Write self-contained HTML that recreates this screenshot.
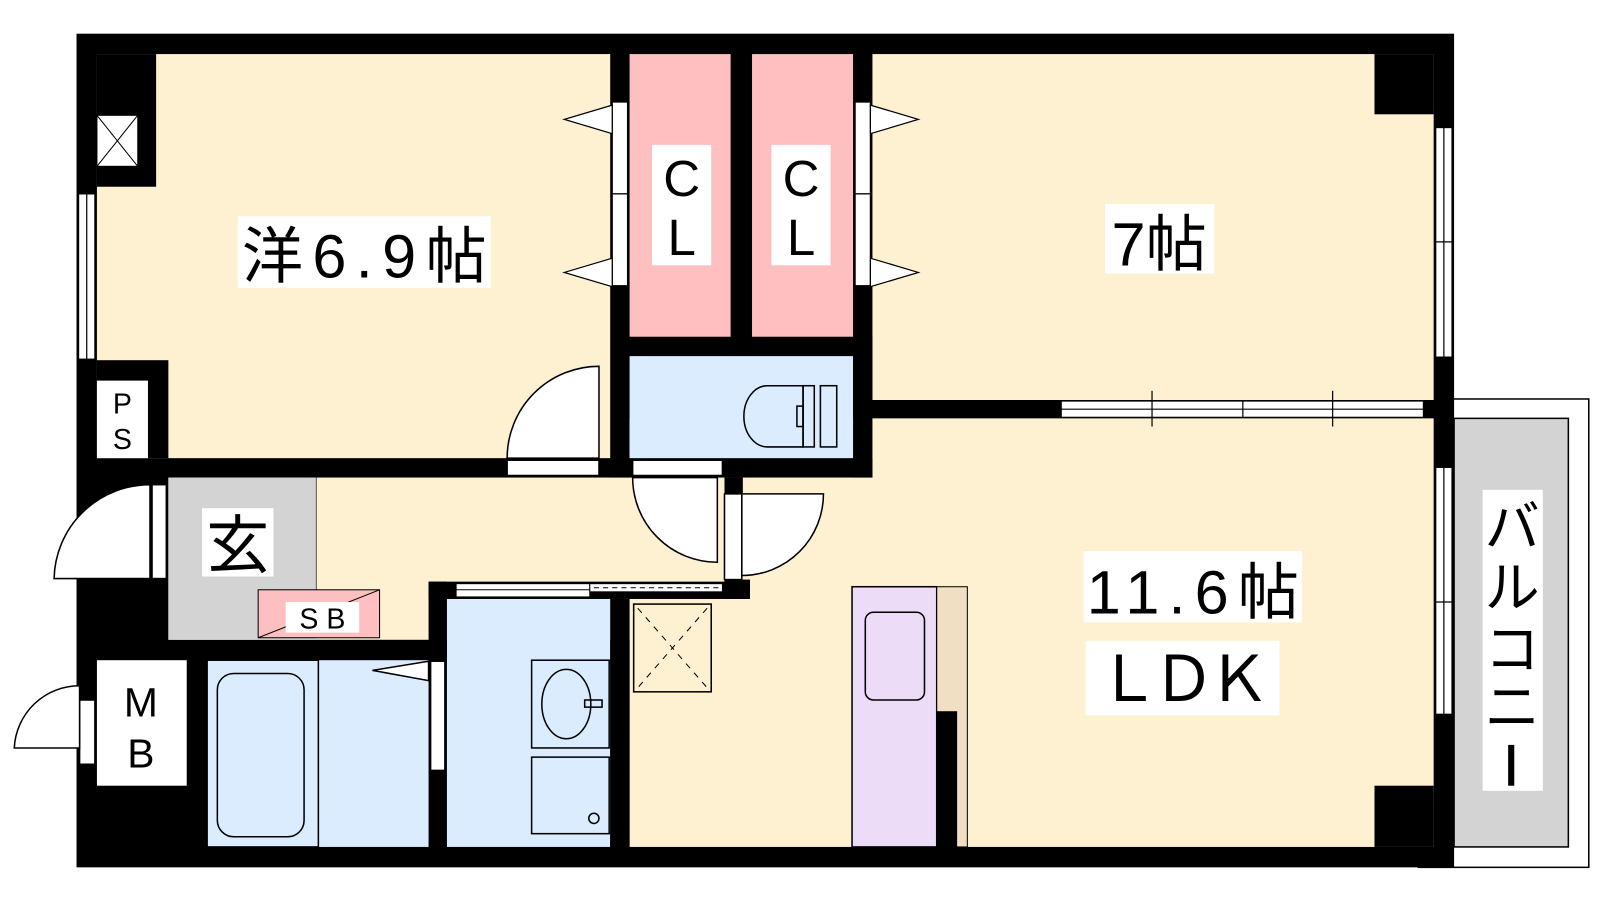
<!DOCTYPE html>
<html><head><meta charset="utf-8"><style>
html,body{margin:0;padding:0;background:#fff;width:1600px;height:900px;overflow:hidden}
svg{display:block}
text{font-family:"Liberation Sans","Noto Sans CJK JP",sans-serif;fill:#000}
</style></head><body>
<svg width="1600" height="900" viewBox="0 0 1600 900" xmlns="http://www.w3.org/2000/svg">
<g transform="scale(1.0204)">
<!-- balcony -->
<rect x="1390" y="391" width="167" height="459" fill="#fff" stroke="#000" stroke-width="1.5"/>
<rect x="1425" y="410" width="112" height="420" fill="#d3d3d3" stroke="#000" stroke-width="1.5"/>
<!-- black base -->
<rect x="75" y="33" width="1350" height="817" fill="#000"/>
<!-- rooms -->
<rect x="95" y="53" width="503" height="396" fill="#fef1d1"/>
<rect x="855" y="53" width="550" height="339" fill="#fef1d1"/>
<rect x="617" y="410" width="788" height="420" fill="#fef1d1"/>
<rect x="165" y="468" width="545" height="159" fill="#fef1d1"/>
<rect x="617" y="468" width="93" height="120" fill="#fef1d1"/>
<rect x="165" y="468" width="145" height="159" fill="#d3d3d3"/>
<line x1="310" y1="468" x2="310" y2="578" stroke="#555" stroke-width="1"/>
<!-- CL -->
<rect x="617" y="53" width="99" height="277" fill="#fdbfbf"/>
<rect x="737" y="53" width="99" height="277" fill="#fdbfbf"/>
<!-- toilet -->
<rect x="617" y="349" width="219" height="100" fill="#dbecfe"/>
<rect x="836" y="330" width="19" height="138" fill="#000"/>
<rect x="598" y="449" width="257" height="19" fill="#000"/>
<!-- bath / wash -->
<rect x="203" y="647" width="217" height="183" fill="#dbecfe"/>
<rect x="438" y="587" width="160" height="243" fill="#dbecfe"/>
<rect x="598" y="587" width="19" height="243" fill="#000"/>
<!-- black corner blocks -->
<rect x="95" y="53" width="58" height="130" fill="#000"/>
<rect x="1347" y="53" width="58" height="59" fill="#000"/>
<rect x="1347" y="770" width="58" height="60" fill="#000"/>
<rect x="95" y="353" width="70" height="96" fill="#000"/>
<!-- X box -->
<rect x="95" y="113" width="40" height="50" fill="#fff" stroke="#000"/>
<line x1="95" y1="113" x2="135" y2="163" stroke="#000"/><line x1="135" y1="113" x2="95" y2="163" stroke="#000"/>
<!-- PS -->
<rect x="95" y="373" width="50" height="76" fill="#fff"/>
<text x="120" y="405" font-size="28" text-anchor="middle">P</text>
<text x="120" y="440" font-size="28" text-anchor="middle">S</text>
<!-- windows -->
<g fill="#fff" stroke="#000" stroke-width="1.2">
<rect x="77" y="190" width="16" height="162"/><line x1="85" y1="190" x2="85" y2="352"/>
<rect x="1407" y="125" width="16" height="225"/><line x1="1415" y1="125" x2="1415" y2="350"/><line x1="1407" y1="237" x2="1423" y2="237"/>
<rect x="1407" y="458" width="16" height="242"/><line x1="1415" y1="458" x2="1415" y2="700"/><line x1="1407" y1="590" x2="1423" y2="590"/>
<rect x="1040" y="393" width="355" height="16"/><line x1="1040" y1="401" x2="1395" y2="401"/><line x1="1218" y1="393" x2="1218" y2="409"/>
</g>
<line x1="1129" y1="383" x2="1129" y2="418" stroke="#000" stroke-width="1.2"/>
<line x1="1306" y1="383" x2="1306" y2="418" stroke="#000" stroke-width="1.2"/>
<!-- CL doors -->
<g fill="#fff" stroke="#000" stroke-width="1.2">
<rect x="600" y="100" width="15" height="90"/><rect x="600" y="190" width="15" height="90"/>
<rect x="838" y="100" width="15" height="90"/><rect x="838" y="190" width="15" height="90"/>
<polygon points="600,103 553,117 600,131"/><polygon points="600,253 553,267 600,281"/>
<polygon points="853,103 900,117 853,131"/><polygon points="853,253 900,267 853,281"/>
</g>
<!-- sliding door wall -->
<rect x="420" y="570" width="315" height="17" fill="#000"/>
<rect x="420" y="570" width="18" height="80" fill="#000"/>
<rect x="710" y="468" width="18" height="16" fill="#000"/>
<rect x="710" y="568" width="25" height="19" fill="#000"/>
<!-- doors -->
<g fill="#fff" stroke="#000" stroke-width="1.5">
<rect x="497" y="451" width="90" height="15"/>
<path d="M497,449 A90,90 0 0 1 587,359 L587,449 Z"/>
<rect x="620" y="451" width="88" height="15"/>
<path d="M620,468 A83,83 0 0 0 703,551 L703,468 Z"/>
<rect x="710" y="484" width="17" height="84"/>
<path d="M727,484 L807,484 A80,80 0 0 1 727,564 Z"/>
<rect x="149" y="475" width="14" height="92"/>
<path d="M53,567 A94,94 0 0 1 147,475 L147,567 Z"/>
<rect x="78" y="686" width="15" height="63"/>
<path d="M14,733 A64,64 0 0 1 78,672 L78,733 Z"/>
<rect x="422" y="648" width="14" height="107"/>
<polygon points="420,648 365,657 420,667"/>
</g>
<rect x="447" y="572" width="131" height="13" fill="#fff" stroke="#000"/>
<line x1="447" y1="578" x2="578" y2="578" stroke="#000"/>
<rect x="578" y="572" width="130" height="8" fill="#fff" stroke="#000"/>
<line x1="582" y1="576" x2="706" y2="576" stroke="#000" stroke-dasharray="5,4"/>
<!-- toilet fixture -->
<g fill="none" stroke="#000" stroke-width="1.5">
<path d="M787,378 L752,378 A23,30 0 0 0 752,438 L787,438 Z"/>
<rect x="787" y="378" width="11" height="60"/><rect x="804" y="378" width="16" height="60"/>
<rect x="781" y="398" width="6" height="20"/>
</g>
<!-- SB -->
<rect x="253" y="578" width="119" height="47" fill="#fdbfbf" stroke="#000"/>
<line x1="253" y1="625" x2="372" y2="578" stroke="#000"/>
<rect x="280" y="590" width="72" height="30" fill="#fff"/>
<text x="316" y="616" font-size="28" text-anchor="middle">S B</text>
<!-- MB -->
<rect x="95" y="647" width="88" height="123" fill="#fff"/>
<text x="138" y="702" font-size="40" text-anchor="middle">M</text>
<text x="138" y="752" font-size="40" text-anchor="middle">B</text>
<!-- bath -->
<g fill="none" stroke="#000" stroke-width="1.5">
<rect x="203" y="647" width="109" height="183"/>
<rect x="213" y="660" width="85" height="160" rx="16"/>
<rect x="521" y="647" width="76" height="86"/>
<ellipse cx="555" cy="690" rx="24" ry="34"/>
<rect x="573" y="686" width="17" height="7"/>
<rect x="521" y="742" width="76" height="75"/>
<circle cx="582" cy="802" r="5"/>
</g>
<!-- fridge -->
<rect x="621" y="592" width="76" height="86" fill="none" stroke="#000" stroke-width="1.5"/>
<line x1="625" y1="596" x2="693" y2="674" stroke="#000" stroke-dasharray="6,6"/>
<line x1="693" y1="596" x2="625" y2="674" stroke="#000" stroke-dasharray="6,6"/>
<!-- kitchen -->
<rect x="835" y="575" width="83" height="255" fill="#ecdcf7" stroke="#000" stroke-width="1.5"/>
<rect x="848" y="600" width="58" height="86" rx="8" fill="none" stroke="#000" stroke-width="1.5"/>
<rect x="918" y="575" width="30" height="255" fill="#f0dfc3" stroke="#000" stroke-width="1"/>
<rect x="918" y="697" width="20" height="133" fill="#000"/>
<!-- labels -->
<rect x="233" y="212" width="248" height="70" fill="#fff"/>
<text x="357" y="272" font-size="60" text-anchor="middle" textLength="240">洋6.9帖</text>
<rect x="1083" y="200" width="107" height="68" fill="#fff"/>
<text x="1136" y="260" font-size="60" text-anchor="middle">7帖</text>
<rect x="1062" y="540" width="214" height="70" fill="#fff"/>
<text x="1169" y="601" font-size="60" text-anchor="middle" textLength="208">11.6帖</text>
<rect x="1064" y="628" width="190" height="73" fill="#fff"/>
<text x="1160" y="687" font-size="62" text-anchor="middle" textLength="170">ＬＤＫ</text>
<rect x="639" y="142" width="58" height="118" fill="#fff"/>
<text x="668" y="192" font-size="50" text-anchor="middle">C</text>
<text x="668" y="250" font-size="50" text-anchor="middle">L</text>
<rect x="756" y="142" width="58" height="118" fill="#fff"/>
<text x="785" y="192" font-size="50" text-anchor="middle">C</text>
<text x="785" y="250" font-size="50" text-anchor="middle">L</text>
<rect x="198" y="498" width="70" height="67" fill="#fff"/>
<text x="233" y="556" font-size="62" text-anchor="middle">玄</text>
<rect x="1453" y="480" width="59" height="295" fill="#fff"/>
<text x="1482" y="535" font-size="54" text-anchor="middle">バ</text>
<text x="1482" y="595" font-size="54" text-anchor="middle">ル</text>
<text x="1482" y="655" font-size="54" text-anchor="middle">コ</text>
<text x="1482" y="712" font-size="54" text-anchor="middle">ニ</text>
<rect x="1478" y="730" width="6" height="40" fill="#000"/>
</g>
</svg>
</body></html>
